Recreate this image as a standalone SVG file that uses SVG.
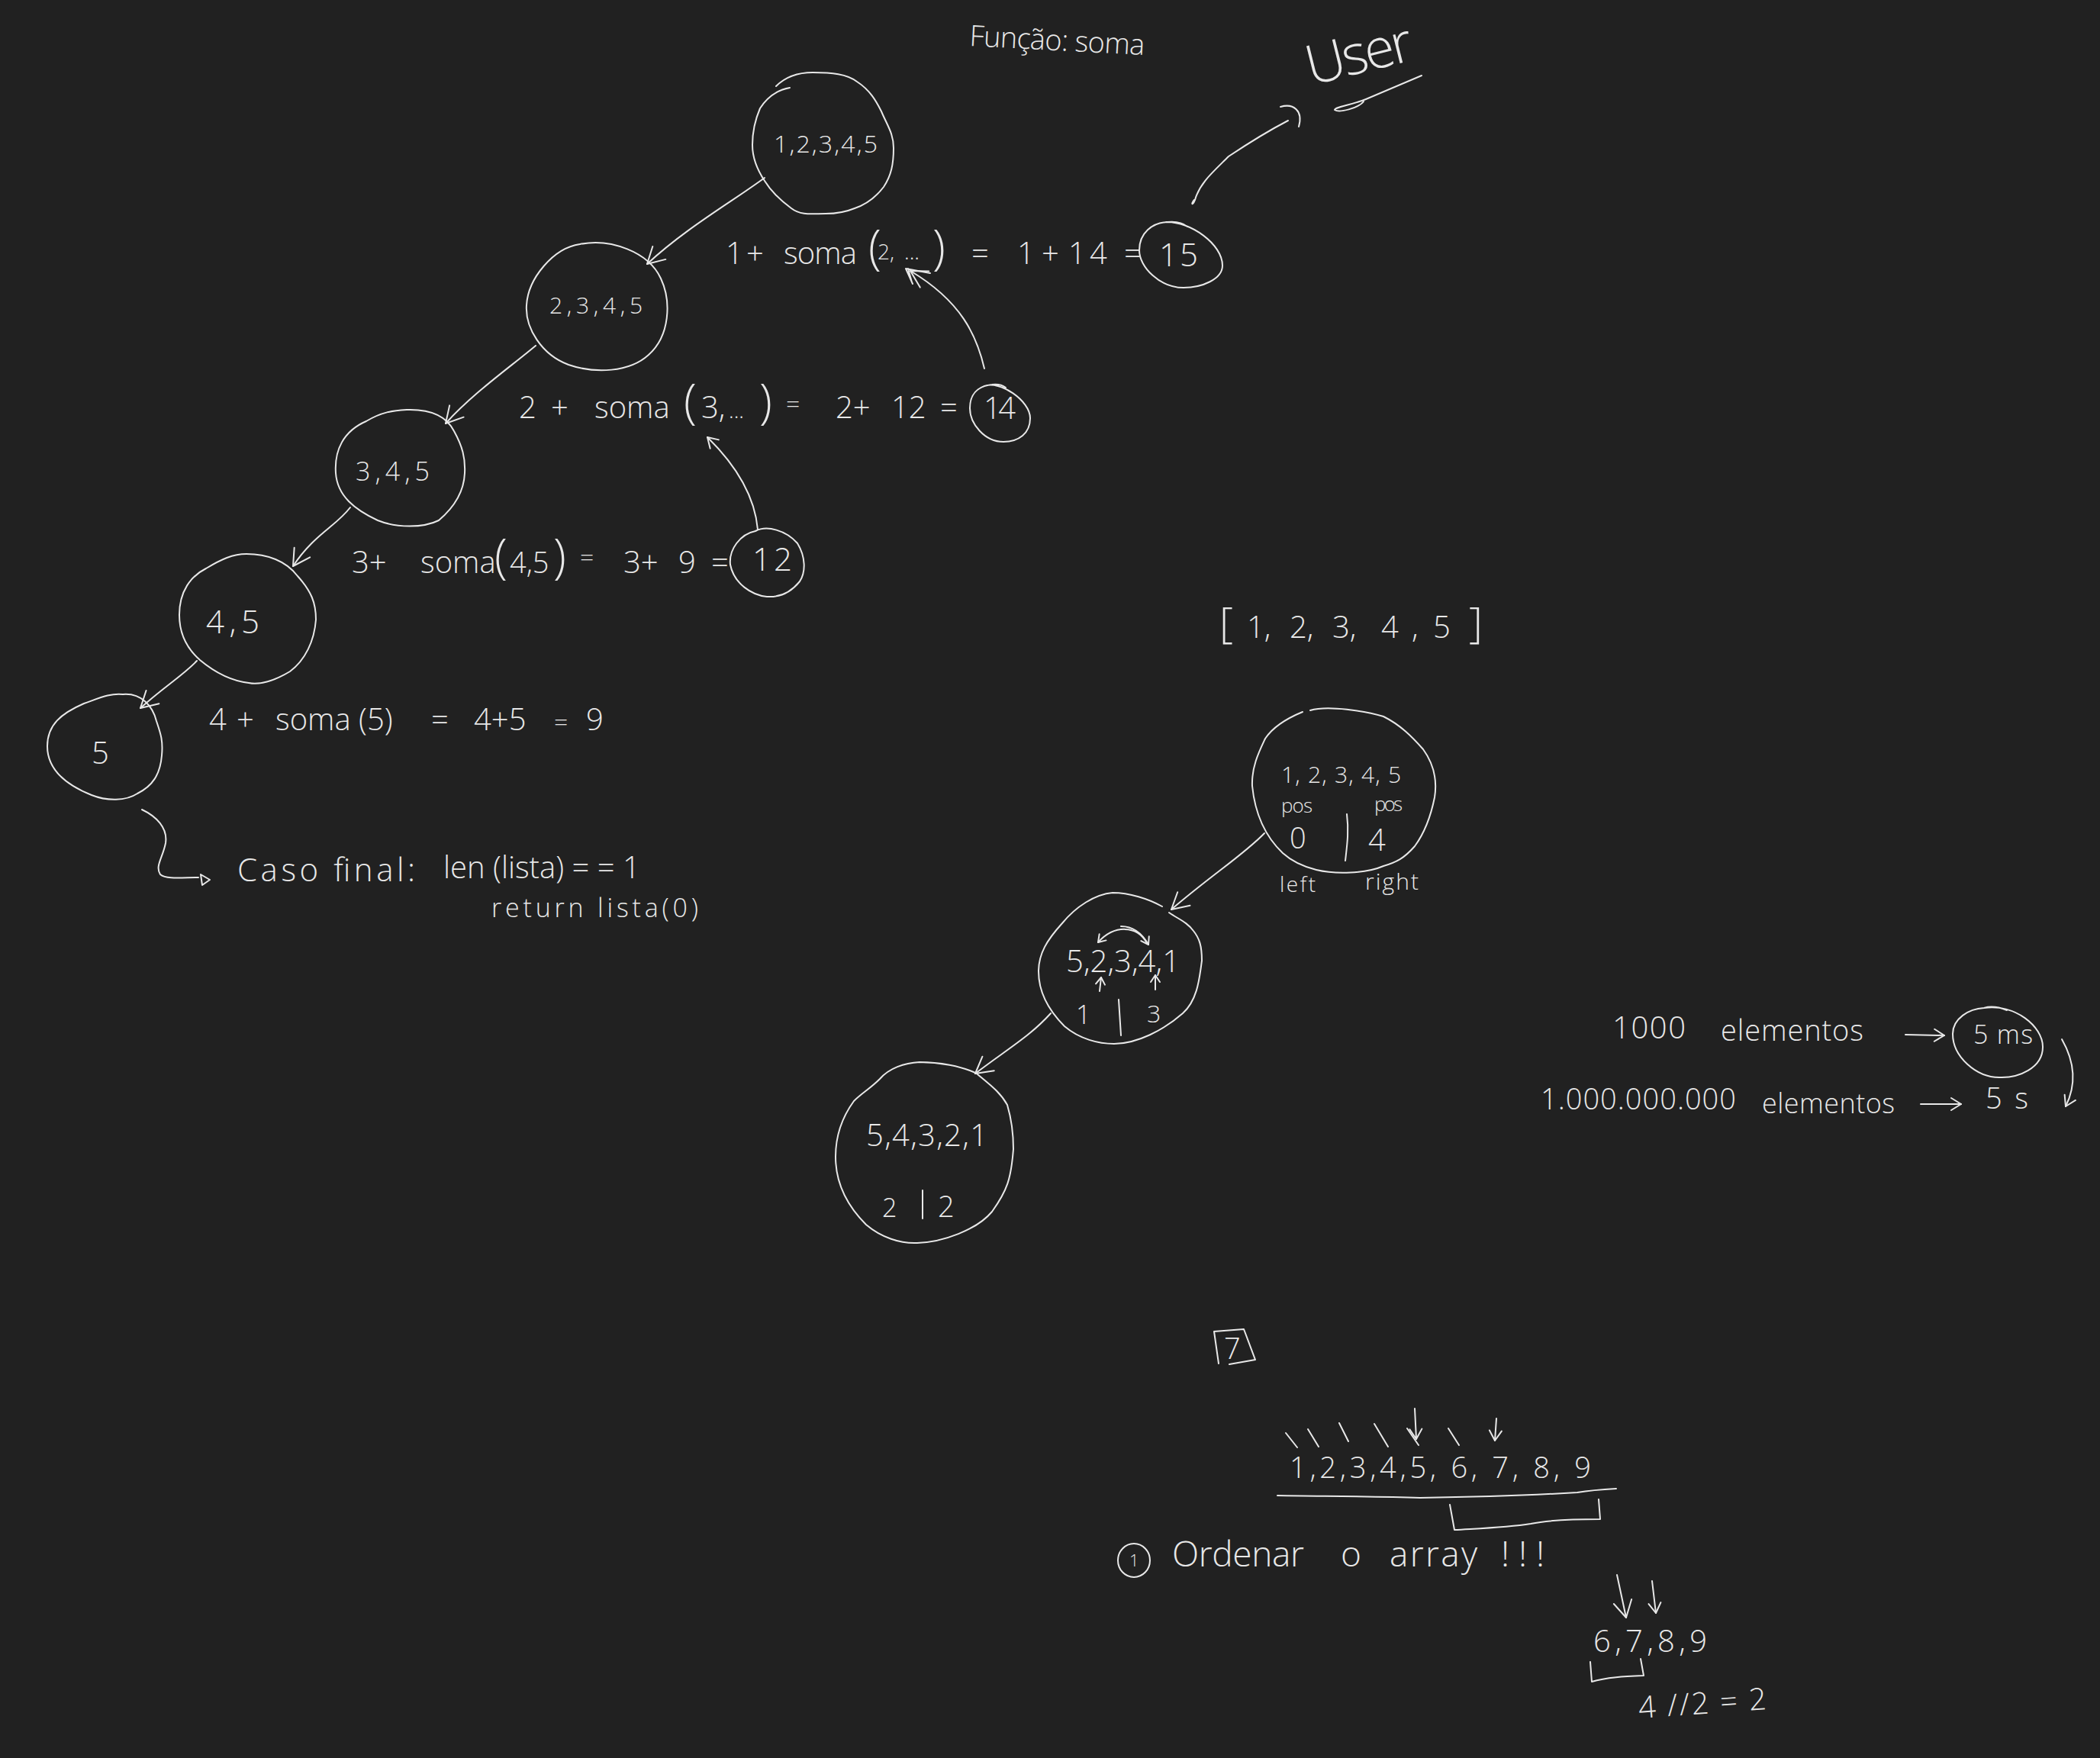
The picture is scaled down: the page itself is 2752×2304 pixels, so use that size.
<svg xmlns="http://www.w3.org/2000/svg" width="2752" height="2304" viewBox="0 0 2752 2304">
<style>
.s{fill:none;stroke:#e8e8e8;stroke-width:2;stroke-linecap:round;stroke-linejoin:round}
text{font-family:"Open Sans","Liberation Sans",sans-serif;font-weight:300;fill:#e8e8e8;stroke:none}
.a{marker-end:url(#h)}.b{marker-end:url(#m)}.c{marker-end:url(#n)}
</style>
<defs>
<marker id="h" markerUnits="userSpaceOnUse" markerWidth="50" markerHeight="50" refX="36" refY="25" orient="auto" overflow="visible"><path class="s" d="M14 13L36 25L15 37"/></marker>
<marker id="m" markerUnits="userSpaceOnUse" markerWidth="40" markerHeight="40" refX="28" refY="20" orient="auto" overflow="visible"><path class="s" d="M15 12L28 20L15 28"/></marker>
<marker id="n" markerUnits="userSpaceOnUse" markerWidth="30" markerHeight="30" refX="22" refY="15" orient="auto" overflow="visible"><path class="s" d="M13 9L22 15L13 21"/></marker>
</defs>
<rect width="2752" height="2304" fill="#212121"/>
<g id="connectors">
<path class="s a" d="M1002 233C960 264,900 298,848 346"/>
<path class="s a" d="M702 453C670 480,620 515,584 555"/>
<path class="s a" d="M459 665C440 690,412 700,384 742"/>
<path class="s a" d="M258 866C240 885,215 900,184 928"/>
<path class="s" d="M186 1061C205 1070,220 1085,217 1105C213 1125,203 1135,210 1146C218 1153,240 1150,260 1150"/>
<path class="s" d="M263 1146L275 1153L265 1160Z"/>
<path class="s a" d="M1290 483C1280 440,1260 395,1193 355"/>
<path class="s" d="M1219 358L1187 352L1196 372M1190 352L1195 370"/>
<path class="s b" d="M993 694C990 660,975 620,927 573"/>
<path class="s" d="M1565 262C1560 268,1563 270,1566 262C1572 240,1590 225,1610 205C1640 185,1665 170,1688 158"/>
<path class="s" d="M1678 140C1695 135,1708 145,1702 166"/>
<path class="s a" d="M1657 1092C1630 1120,1590 1145,1535 1192"/>
<path class="s a" d="M1377 1328C1350 1358,1320 1375,1278 1407"/>
<path class="s c" d="M1503 1236C1490 1212,1460 1212,1439 1235"/>
<path class="s c" d="M1469 1214C1485 1214,1497 1224,1505 1238"/>
<path class="s c" d="M1441 1299L1443 1281"/>
<path class="s c" d="M1514 1297L1514 1278"/>
<path class="s b" d="M2497 1356L2548 1357"/>
<path class="s b" d="M2517 1447L2570 1447"/>
<path class="s b" d="M2702 1362C2718 1390,2722 1420,2707 1450"/>
<path class="s b" d="M1854 1846L1856 1886"/>
<path class="s b" d="M1961 1859L1959 1888"/>
<path class="s a" d="M2119 2064L2131 2120"/>
<path class="s b" d="M2165 2072L2170 2114"/>
</g>
<g id="title"><text transform="translate(1270 60) rotate(3)" font-size="38" textLength="230" lengthAdjust="spacing">Função: soma</text></g>
<g id="user"><text transform="translate(1718 112) rotate(-14)" font-size="72" textLength="142" lengthAdjust="spacing">User</text>
<path class="s" d="M1863 99L1790 130C1770 138,1750 140,1749 144C1755 148,1780 142,1787 133"/></g>
<g id="node-12345"><path class="s" d="M1017 113C1030 100,1048 95,1065 95C1090 95,1110 97,1123 107C1140 118,1148 132,1155 146C1163 165,1171 175,1171 194C1171 215,1168 230,1158 245C1148 258,1135 268,1120 273C1108 278,1095 280,1082 280C1065 280,1050 283,1037 273C1022 262,1010 250,1002 237C992 222,986 208,986 190C986 172,990 156,996 142C1005 128,1018 118,1035 115"/>
<text x="1014" y="200" font-size="32" textLength="136" lengthAdjust="spacing">1,2,3,4,5</text></g>
<g id="node-2345"><path class="s" d="M760 320C800 312,850 330,866 365C880 395,878 440,850 465C825 488,780 490,745 478C710 465,688 430,690 400C692 365,725 325,760 320"/>
<text x="720" y="411" font-size="30" textLength="122" lengthAdjust="spacing">2,3,4,5</text></g>
<g id="node-345"><path class="s" d="M533 537C565 536,585 545,595 565C606 585,610 600,609 620C608 645,595 665,575 682C555 692,520 692,495 682C465 668,442 650,440 620C438 590,450 565,480 552C500 540,515 538,533 537"/>
<text x="466" y="630" font-size="34" textLength="97" lengthAdjust="spacing">3,4,5</text></g>
<g id="node-45"><path class="s" d="M323 726C350 726,375 735,390 755C408 775,414 790,414 812C412 840,400 865,380 880C360 892,340 898,326 895C300 892,280 880,262 865C245 850,235 830,235 806C235 775,250 755,270 745C290 733,305 726,323 726"/>
<text x="270" y="830" font-size="42" textLength="70" lengthAdjust="spacing">4,5</text></g>
<g id="node-5"><path class="s" d="M161 910C185 908,200 925,205 945C210 960,214 970,212 990C210 1015,200 1030,180 1040C165 1050,140 1050,120 1042C90 1030,62 1010,62 978C62 950,80 935,110 922C130 915,145 908,161 910"/>
<text x="120" y="1001" font-size="40">5</text></g>
<g id="node-15"><path class="s" d="M1528 291C1560 290,1602 320,1602 348C1602 366,1575 377,1551 377C1520 377,1493 350,1493 328C1493 305,1510 292,1530 291C1540 290,1550 292,1556 297"/>
<text x="1519" y="349" font-size="42" textLength="51" lengthAdjust="spacing">15</text></g>
<g id="node-14"><path class="s" d="M1290 506C1310 498,1350 525,1350 548C1350 568,1335 579,1315 579C1290 579,1271 555,1271 535C1271 518,1280 506,1300 504C1308 503,1314 505,1318 508"/>
<text x="1289" y="549" font-size="40" textLength="42" lengthAdjust="spacing">14</text></g>
<g id="node-12"><path class="s" d="M990 696C1005 688,1030 695,1045 712C1056 730,1056 750,1048 762C1035 778,1020 783,1005 782C985 780,962 765,957 740C955 720,970 700,990 696"/>
<text x="986" y="748" font-size="42" textLength="52" lengthAdjust="spacing">12</text></g>
<g id="equations" font-size="40">
<text y="346"><tspan x="951">1</tspan><tspan x="978">+</tspan><tspan x="1027" textLength="96">soma</tspan><tspan x="1138" font-size="62">(</tspan><tspan x="1150" font-size="28" dy="-6">2,</tspan><tspan x="1185" font-size="28">...</tspan><tspan x="1222" dy="6" font-size="62">)</tspan><tspan x="1273">=</tspan><tspan x="1333">1</tspan><tspan x="1365">+</tspan><tspan x="1400">1</tspan><tspan x="1428">4</tspan><tspan x="1473">=</tspan></text>
<text y="548"><tspan x="680">2</tspan><tspan x="722">+</tspan><tspan x="779">soma</tspan><tspan x="896" font-size="62">(</tspan><tspan x="919">3,</tspan><tspan x="955" font-size="28">...</tspan><tspan x="995" font-size="62">)</tspan><tspan x="1030" dy="-8" font-size="32">=</tspan><tspan x="1095" dy="8">2+</tspan><tspan x="1168">12</tspan><tspan x="1232">=</tspan></text>
<text y="751"><tspan x="461">3+</tspan><tspan x="551">soma</tspan><tspan x="648" font-size="62">(</tspan><tspan x="668" font-size="38">4,5</tspan><tspan x="725" font-size="62">)</tspan><tspan x="760" dy="-10" font-size="32">=</tspan><tspan x="817" dy="10">3+</tspan><tspan x="889">9</tspan><tspan x="932">=</tspan></text>
<text y="957"><tspan x="274">4</tspan><tspan x="310">+</tspan><tspan x="361">soma</tspan><tspan x="470">(5)</tspan><tspan x="565">=</tspan><tspan x="621">4+5</tspan><tspan x="726" font-size="32">=</tspan><tspan x="768">9</tspan></text>
</g>
<g id="base-case">
<text y="1155" font-size="42"><tspan x="311" textLength="233">Caso final:</tspan><tspan x="581" y="1151" font-size="40">len (lista) = = 1</tspan></text>
<text x="644" y="1202" font-size="34" textLength="271" lengthAdjust="spacing">return lista(0)</text>
</g>
<g id="array-label"><text y="836" font-size="40"><tspan x="1598" font-size="56">[</tspan><tspan x="1634">1,</tspan><tspan x="1690">2,</tspan><tspan x="1746">3,</tspan><tspan x="1810">4</tspan><tspan x="1850">,</tspan><tspan x="1878">5</tspan><tspan x="1925" font-size="56">]</tspan></text></g>
<g id="node-a"><path class="s" d="M1717 931C1740 924,1790 932,1813 939C1835 950,1850 965,1865 982C1878 1000,1884 1020,1880 1045C1875 1070,1868 1090,1854 1109C1840 1125,1830 1130,1813 1135C1790 1145,1750 1146,1725 1140C1705 1135,1692 1128,1681 1118C1660 1098,1645 1070,1641 1030C1640 1005,1650 985,1658 968C1670 950,1690 940,1707 933"/>
<path class="s" d="M1765 1067C1768 1090,1765 1110,1763 1128"/>
<text x="1679" y="1026" font-size="30" textLength="157" lengthAdjust="spacing">1, 2, 3, 4, 5</text>
<text x="1679" y="1065" font-size="26" textLength="41" lengthAdjust="spacing">pos</text>
<text x="1801" y="1063" font-size="26" textLength="37" lengthAdjust="spacing">pos</text>
<text x="1690" y="1112" font-size="38">0</text><text x="1793" y="1115" font-size="40">4</text>
<text x="1677" y="1169" font-size="28" textLength="47" lengthAdjust="spacing">left</text>
<text x="1789" y="1166" font-size="30" textLength="70" lengthAdjust="spacing">right</text></g>
<g id="node-b"><path class="s" d="M1523 1188C1505 1178,1480 1170,1458 1170C1435 1172,1410 1188,1392 1210C1372 1232,1361 1250,1361 1273C1361 1300,1375 1325,1395 1345C1415 1362,1440 1368,1460 1368C1490 1368,1525 1350,1550 1328C1570 1310,1572 1280,1575 1259C1575 1240,1572 1230,1564 1220C1555 1208,1545 1205,1532 1196"/>
<path class="s" d="M1466 1310L1469 1357"/>
<text x="1397" y="1274" font-size="40" textLength="149" lengthAdjust="spacing">5,2,3,4,1</text>
<text x="1410" y="1342" font-size="34">1</text><text x="1503" y="1340" font-size="32">3</text></g>
<g id="node-c"><path class="s" d="M1280 1407C1260 1397,1230 1392,1205 1392C1185 1393,1165 1400,1153 1414C1140 1427,1130 1432,1119 1443C1103 1465,1095 1490,1095 1516C1095 1550,1110 1580,1135 1605C1155 1622,1180 1630,1202 1629C1235 1628,1280 1612,1300 1588C1320 1560,1325 1545,1328 1506C1328 1485,1325 1465,1320 1448C1310 1430,1295 1420,1280 1407"/>
<path class="s" d="M1209 1560L1209 1597"/>
<text x="1135" y="1502" font-size="40" textLength="159" lengthAdjust="spacing">5,4,3,2,1</text>
<text x="1156" y="1595" font-size="34">2</text><text x="1229" y="1595" font-size="38">2</text></g>
<g id="timing">
<text x="2113" y="1361" font-size="40" textLength="96" lengthAdjust="spacing">1000</text>
<text x="2255" y="1364" font-size="38" textLength="187" lengthAdjust="spacing">elementos</text>
<text x="2019" y="1454" font-size="38" textLength="256" lengthAdjust="spacing">1.000.000.000</text>
<text x="2309" y="1459" font-size="36" textLength="174" lengthAdjust="spacing">elementos</text>
<text x="2602" y="1453" font-size="38" textLength="56" lengthAdjust="spacing">5 s</text>
</g>
<g id="node-5ms"><path class="s" d="M2600 1321C2640 1315,2677 1345,2677 1372C2677 1400,2645 1413,2620 1412C2590 1412,2559 1385,2559 1355C2559 1335,2580 1322,2600 1321C2610 1318,2620 1320,2630 1324"/>
<text x="2586" y="1368" font-size="34" textLength="78" lengthAdjust="spacing">5 ms</text></g>
<g id="node-7"><path class="s" d="M1597 1787L1591 1745L1630 1742L1645 1782L1611 1788"/>
<text x="1604" y="1781" font-size="38">7</text></g>
<g id="sorted-array">
<path class="s" d="M1685 1878L1700 1897M1714 1873L1728 1896M1755 1865L1767 1889M1801 1866L1819 1896M1844 1872L1859 1894M1898 1872L1912 1894"/>
<text x="1690" y="1937" font-size="38" textLength="395" lengthAdjust="spacing">1,2,3,4,5, 6, 7, 8, 9</text>
<path class="s" d="M1674 1960C1740 1961,1800 1961,1861 1963C1930 1962,2000 1960,2067 1956C2085 1953,2100 1952,2118 1951"/>
<path class="s" d="M1900 1972L1906 2005C1940 2003,1975 2002,2006 1997C2030 1992,2060 1991,2097 1991L2095 1965"/>
</g>
<g id="step-1"><ellipse class="s" cx="1486" cy="2045" rx="21" ry="22"/>
<text x="1480" y="2053" font-size="22">1</text></g>
<g id="ordenar"><text y="2053" font-size="46"><tspan x="1536" textLength="173">Ordenar</tspan><tspan x="1757">o</tspan><tspan x="1821" textLength="115">array</tspan><tspan x="1967" textLength="57">!!!</tspan></text></g>
<g id="sub-array">
<text x="2088" y="2165" font-size="40" textLength="149" lengthAdjust="spacing">6,7,8,9</text>
<path class="s" d="M2084 2178L2086 2204C2105 2198,2130 2197,2154 2196L2150 2174"/>
<text transform="translate(2148 2252) rotate(-4)" font-size="40" textLength="168" lengthAdjust="spacing">4 //2 = 2</text>
</g>
</svg>
